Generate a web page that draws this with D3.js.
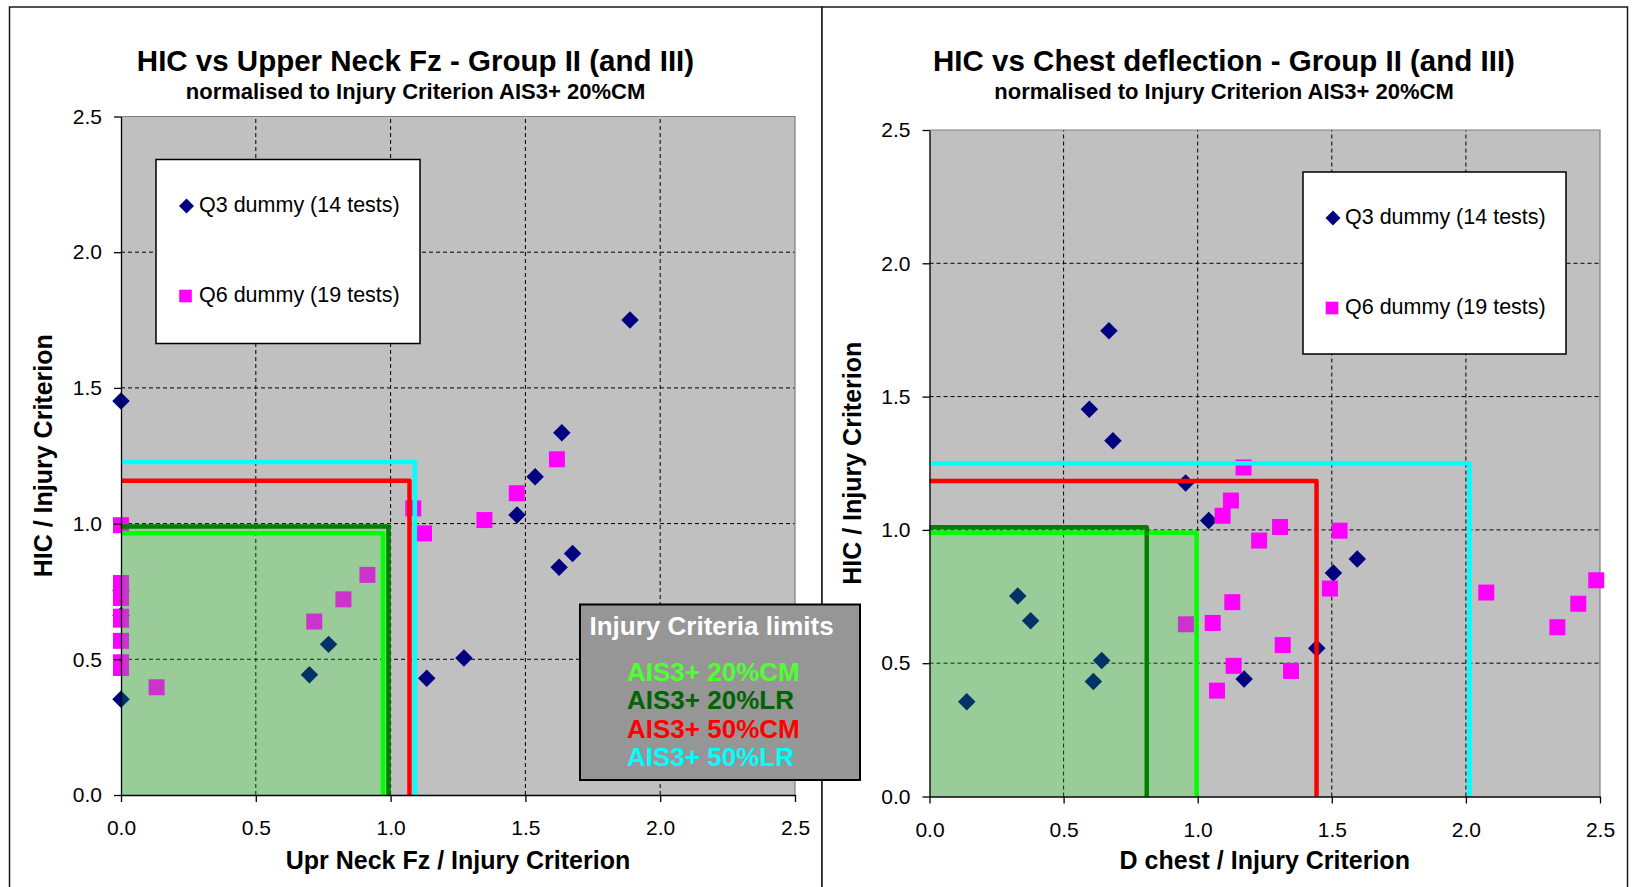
<!DOCTYPE html>
<html><head><meta charset="utf-8">
<script src="https://cdn.jsdelivr.net/npm/d3@7"></script>
<style>
body{margin:0;background:#fff}
svg{display:block}
text{font-family:"Liberation Sans",Arial,Helvetica,sans-serif}
</style>
</head><body>
<svg id="c" width="1633" height="887"></svg>
<script>
// ---------------- data ----------------
const tickValues = [0, 0.5, 1.0, 1.5, 2.0, 2.5];
const seriesNames = ["Q3 dummy (14 tests)", "Q6 dummy (19 tests)"];
const limitNames = ["AIS3+ 20%CM", "AIS3+ 20%LR", "AIS3+ 50%CM", "AIS3+ 50%LR"];
const limitBoxTitle = "Injury Criteria limits";
const subTitle = "normalised to Injury Criterion AIS3+ 20%CM";
const yTitle = "HIC / Injury Criterion";

const neckTitle = "HIC vs Upper Neck Fz - Group II (and III)";
const neckXTitle = "Upr Neck Fz / Injury Criterion";
const neckQ3 = [[0,1.452],[0,0.353],[0,0.753],[0,0.661],[0.770,0.555],[0.699,0.443],
  [1.888,1.750],[1.635,1.335],[1.536,1.173],[1.469,1.032],[1.675,0.890],[1.625,0.839],
  [1.272,0.505],[1.134,0.430]];
const neckQ6 = [[0,0.994],[0,0.781],[0,0.726],[0,0.657],[0,0.646],[0,0.568],[0,0.489],[0,0.468],
  [0.132,0.397],[0.717,0.639],[0.825,0.721],[0.914,0.811],[1.084,1.056],[1.124,0.964],
  [1.348,1.013],[1.468,1.112],[1.617,1.237]];
const neckLimitX = [0.972, 0.992, 1.070, 1.090];
const neckLimitY = [0.964, 0.989, 1.158, 1.227];

const chestTitle = "HIC vs Chest deflection - Group II (and III)";
const chestXTitle = "D chest / Injury Criterion";
const chestQ3 = [[0.669,1.747],[0.596,1.453],[0.684,1.334],[0.955,1.176],[1.041,1.035],
  [0.329,0.752],[0.377,0.659],[0.642,0.510],[0.611,0.431],[0.139,0.355],[1.444,0.556],
  [1.173,0.441],[1.506,0.838],[1.595,0.891]];
const chestQ6 = [[1.171,1.234],[1.124,1.110],[1.093,1.053],[1.307,1.011],[1.229,0.960],
  [1.129,0.729],[1.056,0.651],[0.956,0.646],[1.317,0.568],[1.134,0.490],[1.348,0.471],
  [1.072,0.397],[1.529,0.997],[1.493,0.780],[2.076,0.765],[2.341,0.635],[2.419,0.723],[2.486,0.811]];
const chestLimitX = [0.996, 0.81, 1.443, 2.013];
const chestLimitY = [0.989, 1.010, 1.183, 1.25];

const safeZone = [1.0, 1.0];

// ---------------- styles ----------------
const limitLineColors = ["#00ff00", "#008000", "#ff0000", "#00ffff"];
const limitTextColors = ["#50ff32", "#006400", "#ff0000", "#00ffff"];
const navy = "#000080", magenta = "#ff00ff";

const svg = d3.select("#c");
const fmt = d3.format(".1f");

// frames
svg.append("rect").attr("x",9.5).attr("y",7).attr("width",812.5).attr("height",900)
  .attr("fill","#fff").attr("stroke","#1a1a1a").attr("stroke-width",1.5);
svg.append("rect").attr("x",822).attr("y",7).attr("width",805.5).attr("height",900)
  .attr("fill","#fff").attr("stroke","#1a1a1a").attr("stroke-width",1.5);

function drawChart(c) {
  const x = d3.scaleLinear().domain([0, 2.5]).range(c.xr);
  const y = d3.scaleLinear().domain([0, 2.5]).range(c.yr);
  const g = svg.append("g");

  // titles
  g.append("text").attr("x", c.cx).attr("y", 70.5).attr("text-anchor","middle")
    .attr("font-size",29.5).attr("font-weight","bold").text(c.title);
  g.append("text").attr("x", c.cx).attr("y", 99).attr("text-anchor","middle")
    .attr("font-size",22).attr("font-weight","bold").text(subTitle);

  // plot background
  g.append("rect").attr("x", x(0)).attr("y", y(2.5))
    .attr("width", x(2.5)-x(0)).attr("height", y(0)-y(2.5)).attr("fill","#c0c0c0");

  // grid
  const inner = tickValues.filter(v => v > 0 && v < 2.5);
  g.selectAll(".gx").data(inner).join("line")
    .attr("x1", d=>x(d)).attr("x2", d=>x(d)).attr("y1", y(0)).attr("y2", y(2.5))
    .attr("stroke","#000").attr("stroke-width",1).attr("stroke-dasharray","4,3");
  g.selectAll(".gy").data(inner).join("line")
    .attr("y1", d=>y(d)).attr("y2", d=>y(d)).attr("x1", x(0)).attr("x2", x(2.5))
    .attr("stroke","#000").attr("stroke-width",1).attr("stroke-dasharray","4,3");
  // plot border top/right
  g.append("path").attr("d", `M${x(0)},${y(2.5)}H${x(2.5)}V${y(0)}`)
    .attr("fill","none").attr("stroke","#808080").attr("stroke-width",1.2);

  // points
  const diamond = d3.symbol(d3.symbolSquare, 153);
  const square = d3.symbol(d3.symbolSquare, 256);
  g.selectAll(".q3").data(c.q3).join("path")
    .attr("d", diamond).attr("fill", navy)
    .attr("transform", d => `translate(${x(d[0])},${y(d[1])}) rotate(45)`);
  g.selectAll(".q6").data(c.q6).join("path")
    .attr("d", square).attr("fill", magenta)
    .attr("transform", d => `translate(${x(d[0])},${y(d[1])})`);

  // safe zone overlay
  g.append("rect").attr("x", x(0)).attr("y", y(safeZone[1]))
    .attr("width", x(safeZone[0])-x(0)).attr("height", y(0)-y(safeZone[1]))
    .attr("fill","rgba(0,255,0,0.2)");

  // limit lines
  const line = d3.line().x(d=>x(d[0])).y(d=>y(d[1]));
  c.limX.forEach((lx, i) => {
    const ly = c.limY[i];
    g.append("path").attr("d", line([[0, ly],[lx, ly],[lx, 0]]))
      .attr("fill","none").attr("stroke", limitLineColors[i]).attr("stroke-width",4.5)
      .attr("stroke-linejoin","round");
  });

  // axes
  const ax = g.append("g").attr("transform", `translate(0,${y(0)})`)
    .call(d3.axisBottom(x).tickValues(tickValues).tickFormat(fmt).tickSize(7).tickSizeOuter(0).tickPadding(18.5));
  const ay = g.append("g").attr("transform", `translate(${x(0)},0)`)
    .call(d3.axisLeft(y).tickValues(tickValues).tickFormat(fmt).tickSize(7).tickSizeOuter(0).tickPadding(12));
  [ax, ay].forEach(a => {
    a.selectAll("text").attr("font-size",21).attr("fill","#000")
      .attr("font-family","'Liberation Sans',Arial,sans-serif");
    a.selectAll("line").attr("stroke","#000").attr("stroke-width",1.3);
    a.select(".domain").attr("stroke","#000").attr("stroke-width",1.3);
  });

  // axis titles
  g.append("text").attr("x", (c.xr[0]+c.xr[1])/2).attr("y", 868.5).attr("text-anchor","middle")
    .attr("font-size",25).attr("font-weight","bold").text(c.xTitle);
  g.append("text").attr("transform", `translate(${c.yTitleX},${(c.yr[0]+c.yr[1])/2}) rotate(-90)`)
    .attr("text-anchor","middle").attr("font-size",25).attr("font-weight","bold").text(yTitle);

  // legend
  const L = c.legend;
  g.append("rect").attr("x", L.x).attr("y", L.y).attr("width", L.w).attr("height", L.h)
    .attr("fill","#fff").attr("stroke","#000").attr("stroke-width",1.5);
  g.append("path").attr("d", d3.symbol(d3.symbolSquare, 112))
    .attr("fill", navy).attr("transform", `translate(${L.mx},${L.y1}) rotate(45)`);
  g.append("path").attr("d", d3.symbol(d3.symbolSquare, 160))
    .attr("fill", magenta).attr("transform", `translate(${L.mx-1},${L.y2})`);
  g.append("text").attr("x", L.tx).attr("y", L.y1+6).attr("font-size",21.5).text(seriesNames[0]);
  g.append("text").attr("x", L.tx).attr("y", L.y2+6).attr("font-size",21.5).text(seriesNames[1]);
}

drawChart({
  title: neckTitle, xTitle: neckXTitle, cx: 415.5,
  xr: [121, 795], yr: [795, 116.5], yTitleX: 52,
  q3: neckQ3, q6: neckQ6, limX: neckLimitX, limY: neckLimitY,
  legend: {x:156, y:159.5, w:264, h:184, mx:186.5, tx:199, y1:206, y2:296}
});
drawChart({
  title: chestTitle, xTitle: chestXTitle, cx: 1224,
  xr: [929.5, 1600], yr: [796.5, 130], yTitleX: 861,
  q3: chestQ3, q6: chestQ6, limX: chestLimitX, limY: chestLimitY,
  legend: {x:1303, y:172, w:263, h:182, mx:1333, tx:1345, y1:218, y2:308}
});

// Injury criteria limits box
const box = svg.append("g");
box.append("rect").attr("x",580).attr("y",604.5).attr("width",280).attr("height",175.5)
  .attr("fill","#969696").attr("stroke","#000").attr("stroke-width",2);
box.append("text").attr("x",589.5).attr("y",635).attr("font-size",26).attr("font-weight","bold")
  .attr("fill","#fff").text(limitBoxTitle);
const rowY = [681, 709, 737.5, 766];
limitNames.forEach((n, i) => {
  box.append("text").attr("x",627).attr("y",rowY[i]).attr("font-size",26).attr("font-weight","bold")
    .attr("fill", limitTextColors[i]).text(n);
});
</script>
</body></html>
